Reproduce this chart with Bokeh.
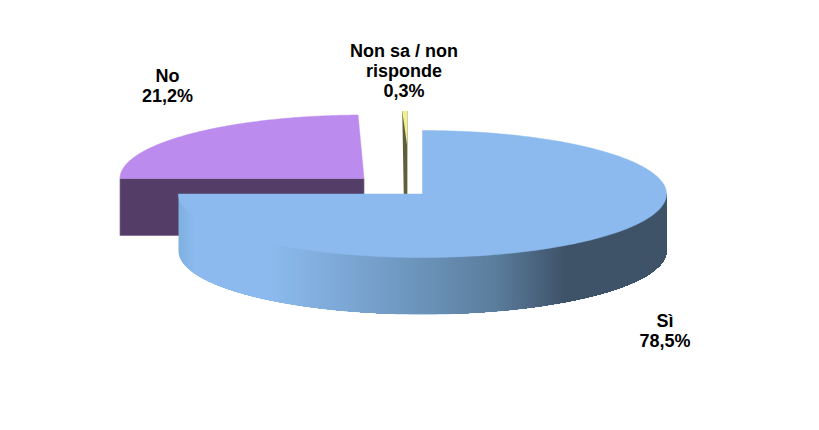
import numpy as np
from bokeh.plotting import figure
from bokeh.models import Range1d
from bokeh.core.properties import value
from bokeh.embed import file_html
from bokeh.resources import INLINE

categories = ["Sì", "No", "Non sa / non\nrisponde"]
shares = [78.5, 21.2, 0.3]
label_text = ["78,5%", "21,2%", "0,3%"]

# layout (pixels of the picture)
RX, RY, DEPTH = 244, 63.5, 57
CENTERS = [(422, 193.5), (363.5, 178), (406, 174)]
# perspective stretch of each slice's sweep, and its start in degrees clockwise from 12 o'clock
STARTS = [0.0, 270.0, 359.0]
STRETCH = [270 / (78.5 * 3.6), 88.6 / (21.2 * 3.6), 1.2 / (0.3 * 3.6)]
TOP = ["#8cbaee", "#bc8bee", "#eff08e"]
SIDE = ["#3e5268", "#543d66", "#5f5e3a"]
LABEL_POS = [(664.5, 330), (167, 85.5), (403.5, 70.5)]
# side-wall shading of the big slice: position along the width, colour
SHADE_X = [178, 195, 270, 400, 495, 565, 666]
SHADE_C = ["#7fb0e0", "#8cbaee", "#8cbaee", "#7099c2", "#5b7d9d", "#3e5268", "#3e5268"]

p = figure(width=803, height=414, output_backend="svg", toolbar_location=None,
           x_range=Range1d(0, 803), y_range=Range1d(414, 0),
           min_border=0, outline_line_color=None, background_fill_color="white")
p.axis.visible = False
p.grid.visible = False


def rim(cx, cy, a0, a1, n=160):
    t = np.radians(np.linspace(a0, a1, n))
    return cx + RX * np.sin(t), cy - RY * np.cos(t)


def shade(xv):
    rgb = [[int(c[i:i + 2], 16) for c in SHADE_C] for i in (1, 3, 5)]
    return "#%02x%02x%02x" % tuple(int(round(np.interp(xv, SHADE_X, ch))) for ch in rgb)


spans = [(STARTS[i], STARTS[i] + shares[i] * 3.6 * STRETCH[i]) for i in range(3)]

# --- No slice (furthest back) ---
(cx, cy), (a0, a1) = CENTERS[1], spans[1]
x, y = rim(cx, cy, a0, a1)
lx = cx - RX
p.patch([lx, cx, cx, lx], [cy, cy, cy + DEPTH, cy + DEPTH], fill_color=SIDE[1],
        line_color="#7d6a90", line_width=0.7)
p.patch(list(x) + [cx], list(y) + [cy], fill_color=TOP[1], line_color=TOP[1], line_width=0.5)

# --- Non sa slice: dark wall, with the light face fading into it near the rim ---
(cx, cy), (a0, a1) = CENTERS[2], spans[2]
x, y = rim(cx, cy, a0, a1, 8)
fy = cy + DEPTH
p.patch([x[0], x[-1], x[-1], x[0] + 2.2], [y[0], y[-1], fy, fy], fill_color=SIDE[2], line_color=None)
p.patch(list(x) + [x[-1] - 0.3], list(y) + [y[0] + 34], fill_color=TOP[2], line_color=None)

# --- Sì slice: side wall painted left to right, each step reaching the right end,
#     all steps sharing one outline, so that no seams show between the shades ---
(cx, cy), (a0, a1) = CENTERS[0], spans[0]
outline = cx - RX * np.cos(np.radians(np.linspace(0, 180, 181)))
for k, x0 in enumerate(np.linspace(cx - RX, cx + RX, 163)[:-1]):
    rest = outline[outline > x0]
    xs = np.concatenate(([x0], rest))
    ybase = cy + RY * np.sqrt(np.clip(1 - ((xs - cx) / RX) ** 2, 0, 1))
    # only the first step carries the full bottom edge: later ones stay a hair inside it
    inset = 0 if k == 0 else 0.4
    p.patch(list(xs) + list(xs[::-1]), [cy] * len(xs) + list((ybase + DEPTH - inset)[::-1]),
            fill_color=shade(x0 + 1.5), line_color=None)
x, y = rim(cx, cy, a0, a1, 300)
p.patch(list(x) + [cx], list(y) + [cy], fill_color=TOP[0], line_color=TOP[0], line_width=0.5)

# --- labels ---
texts = [f"{c}\n{l}" for c, l in zip(categories, label_text)]
for t, (lx, ly) in zip(texts, LABEL_POS):
    p.text([lx], [ly], text=[t], text_align="center", text_baseline="middle",
           text_font=value("Liberation Sans"), text_font_style="bold", text_font_size="18px",
           text_color="#000000", text_line_height=1.0)

open("out.html", "w").write(file_html(p, INLINE))
